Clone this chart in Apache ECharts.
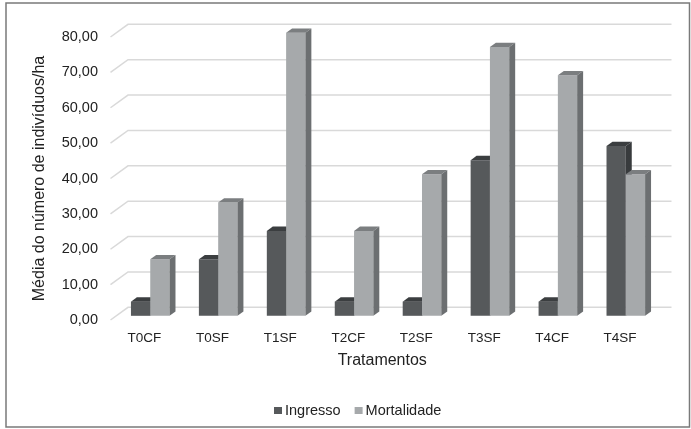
<!DOCTYPE html>
<html>
<head>
<meta charset="utf-8">
<script src="https://cdn.jsdelivr.net/npm/echarts@6/dist/echarts.min.js"></script>
<style>
  html, body { margin: 0; padding: 0; background: #ffffff; }
  #chart { width: 691px; height: 429px; }
</style>
</head>
<body>
<div id="chart"></div>
<script>
// Treatments and mean number of individuals per hectare
const categories = ['T0CF', 'T0SF', 'T1SF', 'T2CF', 'T2SF', 'T3SF', 'T4CF', 'T4SF'];
const ingresso = [4, 16, 24, 4, 4, 44, 4, 48];
const mortalidade = [16, 32, 80, 24, 40, 76, 68, 40];
const yTicks = [0, 10, 20, 30, 40, 50, 60, 70, 80];

// Perspective offset from the front plane to the back wall (pixels)
const DEPTH = [17.5, -12.7];
const BAR_DEPTH = [0.33, 0.67];
const BAR_FRACTION = 0.284;

const FONT = '"Liberation Sans", Arial, sans-serif';

const faces = {
  ingresso: { front: '#56595b', top: '#3b3e40', side: '#383b3d' },
  mortalidade: { front: '#a6a9ab', top: '#7b7e80', side: '#6c6f71' }
};

function fmt(v) {
  return v.toFixed(2).replace('.', ',');
}

// Back wall gridlines with their receding left edge
function wallRenderer(params, api) {
  const v = api.value(1);
  const w = api.size([1, 0])[0];
  const left = api.coord([0, v]);
  const right = api.coord([categories.length - 1, v]);
  const xl = left[0] - w / 2;
  const xr = right[0] + w / 2;
  const y = left[1];
  return {
    type: 'polyline',
    shape: {
      points: [
        [xl, y],
        [xl + DEPTH[0], y + DEPTH[1]],
        [xr + DEPTH[0], y + DEPTH[1]]
      ]
    },
    style: { stroke: '#d9d9d9', lineWidth: 1.5, fill: null }
  };
}

// Extruded column: front face, top face and right side face
function barRenderer(slot, col) {
  return function (params, api) {
    const i = api.value(0);
    const v = api.value(1);
    const c = api.coord([i, v]);
    const b = api.coord([i, 0]);
    const w = api.size([1, 0])[0];
    const bw = w * BAR_FRACTION;
    const x0 = c[0] + (slot === 0 ? -bw : 0);
    const x1 = x0 + bw;
    const top = c[1];
    const base = b[1];
    const ax = DEPTH[0] * BAR_DEPTH[0], ay = DEPTH[1] * BAR_DEPTH[0];
    const bx = DEPTH[0] * BAR_DEPTH[1], by = DEPTH[1] * BAR_DEPTH[1];
    return {
      type: 'group',
      children: [
        {
          type: 'polygon',
          shape: { points: [[x0 + ax, top + ay], [x1 + ax, top + ay], [x1 + ax, base + ay], [x0 + ax, base + ay]] },
          style: { fill: col.front }
        },
        {
          type: 'polygon',
          shape: { points: [[x0 + ax, top + ay], [x1 + ax, top + ay], [x1 + bx, top + by], [x0 + bx, top + by]] },
          style: { fill: col.top }
        },
        {
          type: 'polygon',
          shape: { points: [[x1 + ax, top + ay], [x1 + bx, top + by], [x1 + bx, base + by], [x1 + ax, base + ay]] },
          style: { fill: col.side }
        }
      ]
    };
  };
}

const chart = echarts.init(document.getElementById('chart'), null, { renderer: 'canvas' });

chart.setOption({
  backgroundColor: '#ffffff',
  animation: false,
  textStyle: { fontFamily: FONT },
  graphic: [{
    type: 'rect',
    shape: { x: 6, y: 3, width: 683.5, height: 424 },
    style: { fill: null, stroke: '#7a7a7a', lineWidth: 1.5 },
    silent: true
  }],
  grid: { left: 110.5, right: 37, top: 37, bottom: 109 },
  legend: {
    data: ['Ingresso', 'Mortalidade'],
    left: 269,
    top: 398,
    icon: 'rect',
    itemWidth: 8,
    itemHeight: 7,
    itemGap: 14,
    textStyle: { fontFamily: FONT, fontSize: 14.5, color: '#222', padding: [0, 0, 0, -2] }
  },
  xAxis: {
    type: 'category',
    data: categories,
    name: 'Tratamentos',
    nameLocation: 'middle',
    nameGap: 33,
    nameTextStyle: { fontFamily: FONT, fontSize: 16, color: '#222' },
    axisLine: { show: false },
    axisTick: { show: false },
    axisLabel: { fontFamily: FONT, fontSize: 13.5, color: '#222', margin: 11 },
    splitLine: { show: false }
  },
  yAxis: {
    type: 'value',
    min: 0,
    max: 80,
    interval: 10,
    name: 'Média do número de indivíduos/ha',
    nameLocation: 'middle',
    nameGap: 63,
    nameTextStyle: { fontFamily: FONT, fontSize: 16, color: '#222' },
    axisLine: { show: false },
    axisTick: { show: false },
    axisLabel: { fontFamily: FONT, fontSize: 14.5, color: '#222', margin: 12.5, formatter: fmt },
    splitLine: { show: false }
  },
  series: [
    {
      type: 'custom',
      name: 'wall',
      z: 1,
      silent: true,
      renderItem: wallRenderer,
      data: yTicks.map(t => [0, t])
    },
    {
      type: 'custom',
      name: 'Ingresso',
      z: 2,
      itemStyle: { color: faces.ingresso.front },
      renderItem: barRenderer(0, faces.ingresso),
      data: ingresso.map((v, i) => [i, v])
    },
    {
      type: 'custom',
      name: 'Mortalidade',
      z: 3,
      itemStyle: { color: faces.mortalidade.front },
      renderItem: barRenderer(1, faces.mortalidade),
      data: mortalidade.map((v, i) => [i, v])
    }
  ]
});
</script>
</body>
</html>
